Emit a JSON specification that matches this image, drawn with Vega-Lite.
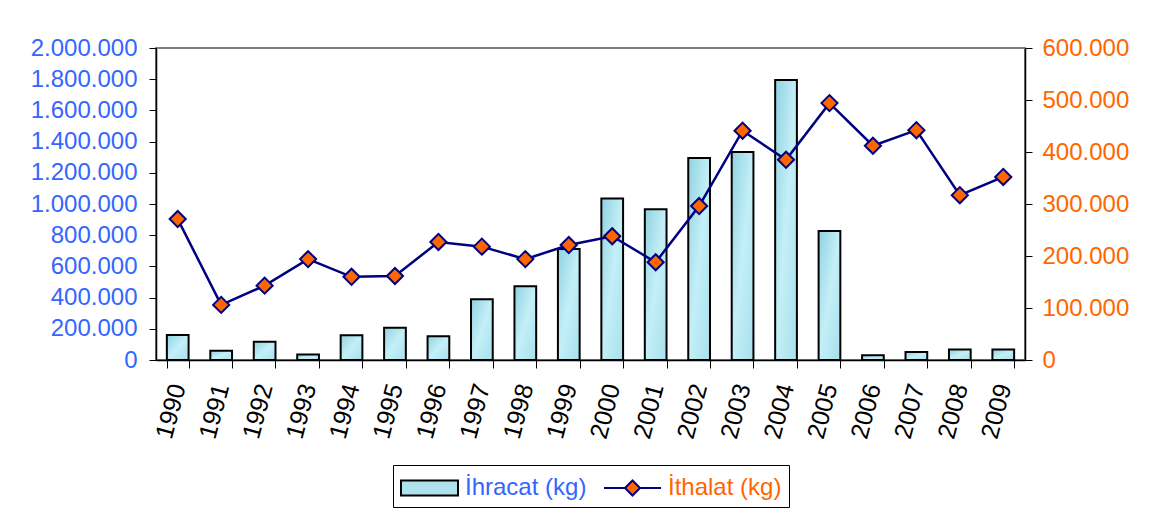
{
  "$schema": "https://vega.github.io/schema/vega-lite/v6.json",
  "autosize": {"type": "none"},
  "width": 869,
  "height": 312,
  "padding": {"left": 156, "top": 48, "right": 126, "bottom": 153},
  "background": "white",
  "config": {
    "locale": {"number": {"decimal": ",", "thousands": ".", "grouping": [3], "currency": ["", ""]}},
    "view": {"fill": "#c0c0c0", "stroke": "#808080", "strokeWidth": 2},
    "font": "Liberation Sans",
    "axis": {"grid": false, "domainColor": "black", "domainWidth": 1.5, "tickColor": "black", "tickWidth": 1, "labelFont": "Liberation Sans", "labelFontSize": 24, "title": null}
  },
  "data": {
    "values": [
      {"year": "1990", "ihracat": 160000, "ithalat": 271000},
      {"year": "1991", "ihracat": 60000, "ithalat": 106000},
      {"year": "1992", "ihracat": 117000, "ithalat": 143000},
      {"year": "1993", "ihracat": 36000, "ithalat": 194000},
      {"year": "1994", "ihracat": 158000, "ithalat": 160000},
      {"year": "1995", "ihracat": 207000, "ithalat": 161500},
      {"year": "1996", "ihracat": 152000, "ithalat": 227000},
      {"year": "1997", "ihracat": 389000, "ithalat": 218000},
      {"year": "1998", "ihracat": 472000, "ithalat": 194000},
      {"year": "1999", "ihracat": 711000, "ithalat": 221000},
      {"year": "2000", "ihracat": 1036000, "ithalat": 238000},
      {"year": "2001", "ihracat": 966000, "ithalat": 188000},
      {"year": "2002", "ihracat": 1295000, "ithalat": 296000},
      {"year": "2003", "ihracat": 1333000, "ithalat": 441000},
      {"year": "2004", "ihracat": 1795000, "ithalat": 385000},
      {"year": "2005", "ihracat": 827000, "ithalat": 494000},
      {"year": "2006", "ihracat": 30000, "ithalat": 412000},
      {"year": "2007", "ihracat": 51000, "ithalat": 442000},
      {"year": "2008", "ihracat": 68000, "ithalat": 317000},
      {"year": "2009", "ihracat": 68000, "ithalat": 352000}
    ]
  },
  "layer": [
    {
      "mark": {
        "type": "bar",
        "fill": {"gradient": "linear", "x1": 0, "y1": 0, "x2": 1, "y2": 1, "stops": [{"offset": 0, "color": "#8fd2e2"}, {"offset": 0.5, "color": "#c4eff7"}, {"offset": 1, "color": "#a6e0ec"}]},
        "stroke": "black",
        "strokeWidth": 2
      },
      "encoding": {
        "x": {
          "field": "year", "type": "ordinal",
          "scale": {"paddingInner": 0.5, "paddingOuter": 0.25},
          "axis": {"labelAngle": -75, "tickBand": "extent", "labelPadding": 16, "tickSize": 8, "labelColor": "black", "labelFontSize": 25}
        },
        "y": {
          "field": "ihracat", "type": "quantitative",
          "scale": {"domain": [0, 2000000], "nice": false},
          "axis": {"values": [0, 200000, 400000, 600000, 800000, 1000000, 1200000, 1400000, 1600000, 1800000, 2000000], "format": ",d", "labelColor": "#3366ff", "tickSize": 7, "labelPadding": 12}
        }
      }
    },
    {
      "encoding": {
        "x": {"field": "year", "type": "ordinal"},
        "y": {
          "field": "ithalat", "type": "quantitative",
          "scale": {"domain": [0, 600000], "nice": false},
          "axis": {"orient": "right", "values": [0, 100000, 200000, 300000, 400000, 500000, 600000], "format": ",d", "labelColor": "#ff6600", "tickSize": 7, "labelPadding": 10}
        }
      },
      "layer": [
        {"mark": {"type": "line", "stroke": "#000080", "strokeWidth": 2.5}},
        {"mark": {"type": "point", "shape": "diamond", "filled": true, "fill": "#ff6600", "stroke": "#000080", "strokeWidth": 2, "size": 260, "opacity": 1}}
      ]
    },
    {
      "transform": [{"filter": "false"}],
      "mark": {"type": "point", "filled": true, "opacity": 1, "strokeWidth": 2},
      "encoding": {
        "fill": {
          "datum": "İhracat (kg)", "type": "nominal",
          "scale": {"domain": ["İhracat (kg)", "İthalat (kg)"], "range": ["#aee2ec", "#ff6600"]},
          "legend": {"orient": "none", "legendX": 237, "legendY": 417, "direction": "horizontal", "title": null, "strokeColor": "black", "fillColor": "white", "padding": 7, "symbolSize": 900, "symbolStrokeWidth": 2, "labelFont": "Liberation Sans", "labelFontSize": 24, "labelOffset": 33, "columnPadding": 13, "labelLimit": 0, "labelColor": {"expr": "datum.label == 'İhracat (kg)' ? '#3366ff' : '#ff6600'"}}
        },
        "stroke": {
          "datum": "İhracat (kg)", "type": "nominal",
          "scale": {"domain": ["İhracat (kg)", "İthalat (kg)"], "range": ["black", "#000080"]},
          "legend": {"orient": "none", "legendX": 237, "legendY": 417, "direction": "horizontal", "title": null}
        },
        "shape": {
          "datum": "İhracat (kg)", "type": "nominal",
          "scale": {"domain": ["İhracat (kg)", "İthalat (kg)"], "range": ["M-1,-0.5H2.8V0.5H-1Z", "M-1,0H0.4M1.4,0H2.8M0.9,-0.5L1.4,0L0.9,0.5L0.4,0Z"]},
          "legend": {"orient": "none", "legendX": 237, "legendY": 417, "direction": "horizontal", "title": null}
        }
      }
    }
  ],
  "resolve": {"scale": {"y": "independent"}}
}
